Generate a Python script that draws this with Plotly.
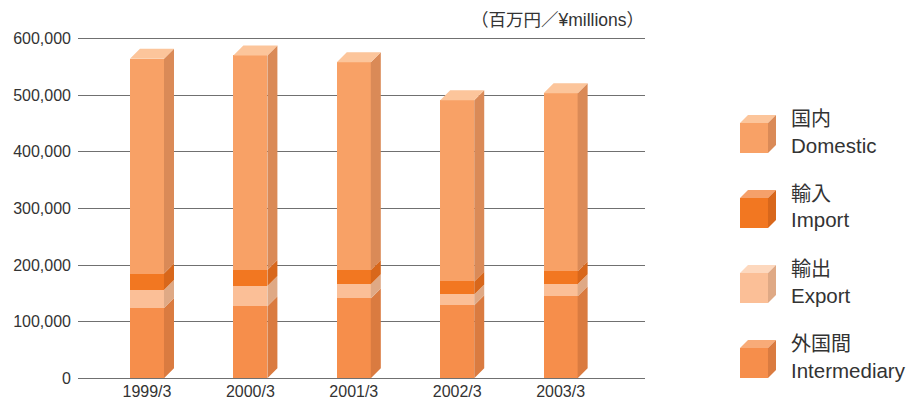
import plotly.graph_objects as go

years = ["1999/3", "2000/3", "2001/3", "2002/3", "2003/3"]
intermediary = [124000, 127000, 141000, 129000, 145000]
export = [32000, 36000, 25000, 19000, 21000]
imports = [29000, 28000, 25000, 23000, 23000]
domestic = [379000, 379000, 367000, 320000, 314000]
y_ticks = [0, 100000, 200000, 300000, 400000, 500000, 600000]
y_tick_labels = ["0", "100,000", "200,000", "300,000", "400,000", "500,000", "600,000"]

series = [
    ("外国間", "Intermediary", intermediary, "#F68E4B", "#DA7B40", "#F8AB78"),
    ("輸出", "Export", export, "#FBBF97", "#DFA985", "#FDD8BE"),
    ("輸入", "Import", imports, "#F27721", "#D8671B", "#F5A06A"),
    ("国内", "Domestic", domestic, "#F8A166", "#DA8A57", "#FCC59B"),
]

FONT = "Arial, 'Liberation Sans', 'Noto Sans CJK JP', sans-serif"
W, H = 913, 400
ML, MR, MT, MB = 78, 268, 35, 20
PW, PH = W - ML - MR, H - MT - MB
YMIN, YMAX = -3000, 606000
XMIN, XMAX = -0.667, 4.816
BW = 0.329
DX = (10 / PW) * (XMAX - XMIN)
DY = (10 / PH) * (YMAX - YMIN)

xs = list(range(len(years)))
fig = go.Figure()

for jp, en, vals, front, side, top in series:
    fig.add_trace(go.Bar(x=xs, y=vals, width=BW, marker=dict(color=front, line=dict(width=0)),
                         name=en, showlegend=False, hoverinfo="skip"))

# side faces and tops
base = [0] * len(years)
for si, (jp, en, vals, front, side, top) in enumerate(series):
    sx, sy = [], []
    for i, v in enumerate(vals):
        xr = xs[i] + BW / 2
        y0, y1 = base[i], base[i] + v
        sx += [xr, xr + DX, xr + DX, xr, xr, None]
        sy += [y0, y0 + DY, y1 + DY, y1, y0, None]
    fig.add_trace(go.Scatter(x=sx, y=sy, fill="toself", fillcolor=side, mode="lines",
                             line=dict(width=0, color=side), showlegend=False, hoverinfo="skip"))
    if si == len(series) - 1:
        tx, ty = [], []
        for i, v in enumerate(vals):
            xl = xs[i] - BW / 2
            xr = xs[i] + BW / 2
            yt = base[i] + v
            tx += [xl, xl + DX, xr + DX, xr, xl, None]
            ty += [yt, yt + DY, yt + DY, yt, yt, None]
        fig.add_trace(go.Scatter(x=tx, y=ty, fill="toself", fillcolor=top, mode="lines",
                                 line=dict(width=0, color=top), showlegend=False, hoverinfo="skip"))
    base = [b + v for b, v in zip(base, vals)]


def px(x):
    return (x - ML) / PW


def py(y):
    return (H - MB - y) / PH


def path(pts):
    return "M " + " L ".join(f"{px(a):.5f},{py(b):.5f}" for a, b in pts) + " Z"


shapes = []
annotations = []
legend_order = [series[3], series[2], series[1], series[0]]
for k, (jp, en, vals, front, side, top) in enumerate(legend_order):
    y0 = 123 + 75 * k
    x0, x1, d, h = 740, 768, 8, 30
    shapes.append(dict(type="path", xref="paper", yref="paper", line=dict(width=0),
                       fillcolor=front, path=path([(x0, y0), (x1, y0), (x1, y0 + h), (x0, y0 + h)])))
    shapes.append(dict(type="path", xref="paper", yref="paper", line=dict(width=0),
                       fillcolor=top, path=path([(x0, y0), (x0 + d, y0 - d), (x1 + d, y0 - d), (x1, y0)])))
    shapes.append(dict(type="path", xref="paper", yref="paper", line=dict(width=0),
                       fillcolor=side, path=path([(x1, y0), (x1 + d, y0 - d), (x1 + d, y0 + h - d), (x1, y0 + h)])))
    annotations.append(dict(text=jp, xref="paper", yref="paper", x=px(789), y=py(y0 - 4),
                            xanchor="left", yanchor="middle", showarrow=False,
                            font=dict(family=FONT, size=20, color="#333333")))
    annotations.append(dict(text=en, xref="paper", yref="paper", x=px(789), y=py(y0 + 22),
                            xanchor="left", yanchor="middle", showarrow=False,
                            font=dict(family=FONT, size=20.5, color="#333333")))

annotations.append(dict(text="（百万円／¥millions）", xref="paper", yref="paper", x=px(646), y=py(20),
                        xanchor="right", yanchor="middle", showarrow=False,
                        font=dict(family=FONT, size=17.5, color="#333333")))

fig.update_layout(
    width=W, height=H,
    margin=dict(l=ML, r=MR, t=MT, b=MB, pad=0, autoexpand=False),
    barmode="stack",
    plot_bgcolor="white", paper_bgcolor="white",
    hovermode=False,
    showlegend=False,
    shapes=shapes,
    annotations=annotations,
    xaxis=dict(range=[XMIN, XMAX], tickvals=xs, ticktext=years, showgrid=False, zeroline=False,
               showline=False, ticks="", automargin=False, ticklabelstandoff=0,
               tickfont=dict(family=FONT, size=16, color="#333333"), fixedrange=True),
    yaxis=dict(range=[YMIN, YMAX], tickvals=y_ticks, ticktext=y_tick_labels,
               showgrid=True, gridcolor="#707070", gridwidth=1, zeroline=False, showline=False,
               ticks="", automargin=False, ticklabelstandoff=6,
               tickfont=dict(family=FONT, size=16, color="#333333"), fixedrange=True),
)

fig.write_html("out.html", config={"displayModeBar": False},
               post_script="document.body.style.margin='0';document.body.style.overflow='hidden';")
